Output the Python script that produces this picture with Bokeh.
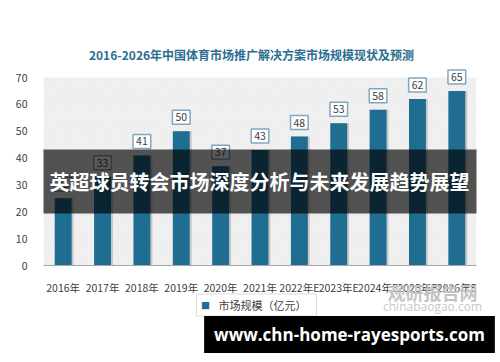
from bokeh.plotting import figure
from bokeh.models import (ColumnDataSource, Label, BoxAnnotation, FixedTicker,
                          FactorRange, Range1d)
from bokeh.transform import dodge
from bokeh.embed import file_html
from bokeh.resources import INLINE

# ---- data ----
categories = ["2016年", "2017年", "2018年", "2019年", "2020年", "2021年",
              "2022年E", "2023年E", "2024年E", "2025年E", "2026年E"]
values = [25, 33, 41, 50, 37, 43, 48, 53, 58, 62, 65]
y_ticks = [0, 10, 20, 30, 40, 50, 60, 70]
series_name = "市场规模（亿元）"
chart_title = "2016-2026年中国体育市场推广解决方案市场规模现状及预测"
banner_text = "英超球员转会市场深度分析与未来发展趋势展望"
site_text = "www.chn-home-rayesports.com"
wm_cn = "观研报告网"
wm_en = "chinabaogao.com"

CJK = "Noto Sans CJK SC"
BAR = "#1F6E91"
TXT = "#404040"

# frame placement in canvas pixels
FL, FR, FT, FB = 43, 476, 68, 265
W, H = 500, 362
PX_PER_UNIT = (265 - 77) / 70.0

x_range = FactorRange(*categories, range_padding=0)
p = figure(width=W, height=H, x_range=x_range,
           y_range=Range1d(0, 70 + (77 - FT) / PX_PER_UNIT), output_backend="svg",
           toolbar_location=None, title=None, min_border_left=FL, min_border_right=W - FR,
           min_border_top=FT, min_border_bottom=H - FB)
p.outline_line_color = None
p.grid.visible = False
p.background_fill_color = "white"
p.border_fill_color = "white"


def sx(x):
    return x - FL


def sy(y):
    return FB - y


def set_pad(lab, pad, fallback):
    try:
        lab.padding = pad
    except Exception:
        lab.padding = fallback
    return lab


def canvas_label(**kw):
    return Label(x_units="canvas", y_units="canvas", **kw)


# hatched plot background (0..70)
p.add_layout(BoxAnnotation(top=70, bottom=0, fill_alpha=0, hatch_pattern="left_diagonal_line",
                           hatch_color="#d6d6d6", hatch_scale=3.5, hatch_weight=0.7,
                           line_color=None, level="underlay"))

src = ColumnDataSource(dict(cat=categories, val=values))

# bar shadows and bars
p.vbar(x=dodge("cat", 0.035, range=x_range), top="val", width=0.46, source=src,
       fill_color="#9a9a9a", fill_alpha=0.45, line_color=None)
p.vbar(x="cat", top="val", width=0.43, source=src, fill_color=BAR, line_color=None)

# value labels in boxes (categorical synthetic coordinate = index + 0.5)
for i, v in enumerate(values):
    p.add_layout(Label(x=i + 0.5, y=v, text=str(v), text_align="center", text_baseline="bottom",
                       y_offset=7, text_font=CJK, text_font_size="10.5px", text_color=TXT,
                       background_fill_color="white", border_line_color="#7FA8BF",
                       border_line_width=1.5, padding=3))

# axes
p.yaxis.ticker = FixedTicker(ticks=y_ticks)
p.yaxis.axis_line_color = None
p.yaxis.major_tick_line_color = None
p.yaxis.minor_tick_line_color = None
p.yaxis.major_label_text_font = CJK
p.yaxis.major_label_text_font_size = "10.5px"
p.yaxis.major_label_text_color = TXT
p.yaxis.major_label_standoff = 10
p.xaxis.axis_line_color = "#a6a6a6"
p.xaxis.axis_line_width = 1.2
p.xaxis.major_tick_line_color = None
p.xaxis.minor_tick_line_color = None
p.xaxis.major_label_text_font = CJK
p.xaxis.major_label_text_font_size = "10.5px"
p.xaxis.major_label_text_color = TXT
p.xaxis.major_label_standoff = 8

# banner overlay inside the plot frame
p.add_layout(BoxAnnotation(left=sx(8), right=sx(492), top=sy(149), bottom=sy(213),
                           left_units="screen", right_units="screen", top_units="screen",
                           bottom_units="screen", fill_color="black", fill_alpha=0.66,
                           line_color=None, level="overlay"))
p.add_layout(Label(x=sx(259), y=sy(181), x_units="screen", y_units="screen", text=banner_text,
                   text_align="center", text_baseline="middle", text_font=CJK,
                   text_font_style="bold", text_font_size="20px", text_color="white",
                   level="overlay"))

# title and watermark: canvas-positioned labels in the top side panel (not clipped)
p.add_layout(canvas_label(x=251, y=54, text=chart_title, text_align="center",
                          text_baseline="middle", text_font=CJK, text_font_style="bold",
                          text_font_size="12px", text_color="#2C6E91", level="overlay"), "above")
p.add_layout(canvas_label(x=432, y=291, text=wm_cn, text_align="center",
                          text_baseline="middle", text_font=CJK, text_font_style="bold",
                          text_font_size="18px", text_color="#c4c4c4", level="overlay"), "above")
p.add_layout(canvas_label(x=432, y=306, text=wm_en, text_align="center",
                          text_baseline="middle", text_font="Open Sans",
                          text_font_size="12px", text_color="#c8c8c8", level="overlay"), "above")

# legend box (text label with border) in the bottom panel
leg = canvas_label(x=256, y=304.5, text=series_name, text_align="center",
                   text_baseline="middle", text_font=CJK, text_font_size="11px",
                   text_color=TXT, background_fill_color="white",
                   border_line_color="#dcdcdc", border_line_width=1, level="annotation")
set_pad(leg, dict(left=22, right=10, top=3, bottom=3), 4)
p.add_layout(leg, "below")
# legend marker in the left panel
p.add_layout(canvas_label(x=205, y=304.5, text="■", text_align="center",
                          text_baseline="middle", text_font=CJK, text_font_size="9px",
                          text_color=BAR, level="overlay"), "left")

# bottom site band
site = canvas_label(x=349, y=334, text=site_text, text_align="center",
                    text_baseline="middle", text_font="Open Sans", text_font_style="bold",
                    text_font_size="17px", text_color="white", background_fill_color="black",
                    level="overlay")
set_pad(site, dict(left=10, right=10, top=7, bottom=7), 8)
p.add_layout(site, "below")

open("out.html", "w").write(file_html(p, INLINE))
